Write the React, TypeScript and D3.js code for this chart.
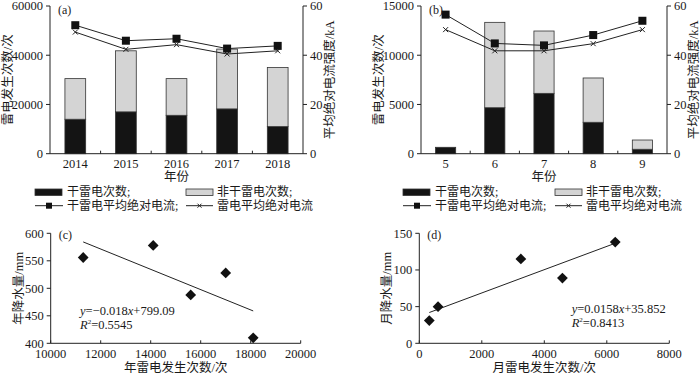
import React from 'react';
import * as d3 from 'd3';

const years = ['2014', '2015', '2016', '2017', '2018'];
const yearDry = [14000, 17000, 15600, 18200, 11000];
const yearNonDry = [16500, 24800, 14900, 24300, 24000];
const yearDryCurrent = [52.2, 45.9, 46.7, 42.7, 43.8];
const yearAllCurrent = [49.4, 42.4, 44.3, 40.5, 41.8];
const yearTicks = [0, 20000, 40000, 60000];

const months = ['5', '6', '7', '8', '9'];
const monthDry = [650, 4670, 6130, 3190, 450];
const monthNonDry = [0, 8670, 6330, 4500, 940];
const monthDryCurrent = [56.5, 44.8, 44.0, 48.2, 54.0];
const monthAllCurrent = [50.4, 41.8, 41.8, 44.7, 50.4];
const monthTicks = [0, 5000, 10000, 15000];
const currentTicks = [0, 20, 40, 60];

const yearScatterX = [11300, 14100, 15600, 17000, 18100];
const yearRain = [556, 578, 488, 528, 410];
const yearXTicks = [10000, 12000, 14000, 16000, 18000, 20000];
const yearYTicks = [400, 450, 500, 550, 600];

const monthScatterX = [320, 600, 3250, 4580, 6270];
const monthRain = [31, 50, 115, 89, 138];
const monthXTicks = [0, 2000, 4000, 6000, 8000];
const monthYTicks = [0, 50, 100, 150];

const legendLabels = ['干雷电次数;', '非干雷电次数;', '干雷电平均绝对电流;', '雷电平均绝对电流'];

const FONT = '"Liberation Serif", "Noto Sans CJK SC", serif';
const FS = 12.5;
const DARK = '#141414';
const LIGHT = '#d4d4d4';

function BarPanel({ cats, dry, nonDry, dryCur, allCur, ticks, left, right, tag, xLabel }: any) {
  const top = 6, bottom = 153.7;
  const x = d3.scaleBand().domain(cats).range([left, right]).padding(0);
  const y = d3.scaleLinear().domain([0, ticks[ticks.length - 1]]).range([bottom, top]);
  const yr = d3.scaleLinear().domain([0, 60]).range([bottom, top]);
  const bw = x.bandwidth() * 0.41;
  const cx = (c: string) => (x(c) as number) + x.bandwidth() / 2;
  const line = d3.line<[number, number]>().x(d => d[0]).y(d => d[1]);
  const dryPts: [number, number][] = cats.map((c: string, i: number) => [cx(c), yr(dryCur[i])]);
  const allPts: [number, number][] = cats.map((c: string, i: number) => [cx(c), yr(allCur[i])]);
  const midX = (left + right) / 2;
  return (
    <g>
      {cats.map((c: string, i: number) => (
        <g key={c}>
          <rect x={cx(c) - bw / 2} y={y(dry[i])} width={bw} height={bottom - y(dry[i])} fill={DARK} stroke="#333" strokeWidth={0.8} />
          {nonDry[i] > 0 && (
            <rect x={cx(c) - bw / 2} y={y(dry[i] + nonDry[i])} width={bw} height={y(dry[i]) - y(dry[i] + nonDry[i])} fill={LIGHT} stroke="#333" strokeWidth={0.8} />
          )}
        </g>
      ))}
      <path d={line(allPts) || ''} fill="none" stroke="#222" strokeWidth={1} />
      <path d={line(dryPts) || ''} fill="none" stroke="#222" strokeWidth={1} />
      {allPts.map((p, i) => (
        <g key={'x' + i} stroke="#222" strokeWidth={1}>
          <line x1={p[0] - 2.5} y1={p[1] - 2.5} x2={p[0] + 2.5} y2={p[1] + 2.5} />
          <line x1={p[0] - 2.5} y1={p[1] + 2.5} x2={p[0] + 2.5} y2={p[1] - 2.5} />
        </g>
      ))}
      {dryPts.map((p, i) => (
        <rect key={'s' + i} x={p[0] - 4} y={p[1] - 4} width={8} height={8} fill="#111" />
      ))}
      <line x1={left} y1={top} x2={left} y2={bottom} stroke="#222" />
      <line x1={right} y1={top} x2={right} y2={bottom} stroke="#222" />
      <line x1={left} y1={bottom} x2={right} y2={bottom} stroke="#222" />
      {ticks.map((t: number) => (
        <g key={'l' + t}>
          <line x1={left - 4} x2={left} y1={y(t)} y2={y(t)} stroke="#222" />
          <text x={left - 7} y={y(t)} dy="0.35em" textAnchor="end" fontSize={FS}>{t}</text>
        </g>
      ))}
      {currentTicks.map((t: number) => (
        <g key={'r' + t}>
          <line x1={right} x2={right + 4} y1={yr(t)} y2={yr(t)} stroke="#222" />
          <text x={right + 7} y={yr(t)} dy="0.35em" textAnchor="start" fontSize={FS}>{t}</text>
        </g>
      ))}
      {cats.slice(1).map((c: string) => (
        <line key={'b' + c} x1={x(c) as number} x2={x(c) as number} y1={bottom} y2={bottom - 3} stroke="#222" />
      ))}
      {cats.map((c: string) => (
        <text key={'t' + c} x={cx(c)} y={bottom + 14} textAnchor="middle" fontSize={FS}>{c}</text>
      ))}
      <text x={midX} y={180.5} textAnchor="middle" fontSize={FS}>{xLabel}</text>
      <text x={left + 8} y={top + 8} fontSize={12}>{tag}</text>
      <text transform={`translate(${left - 38},${(top + bottom) / 2}) rotate(-90)`} textAnchor="middle" fontSize={FS}>雷电发生次数/次</text>
      <text transform={`translate(${right + 31},${(top + bottom) / 2}) rotate(-90)`} textAnchor="middle" fontSize={FS}>平均绝对电流强度/kA</text>
    </g>
  );
}

function Legend({ x0, x1 }: any) {
  const r1 = 192, r2 = 205.7;
  return (
    <g fontSize={12}>
      <rect x={x0} y={r1 - 3} width={27} height={6.5} fill={DARK} stroke="#333" strokeWidth={0.8} />
      <text x={x0 + 32} y={r1} dy="0.35em">{legendLabels[0]}</text>
      <rect x={x1} y={r1 - 3} width={27} height={6.5} fill={LIGHT} stroke="#333" strokeWidth={0.8} />
      <text x={x1 + 31} y={r1} dy="0.35em">{legendLabels[1]}</text>
      <line x1={x0} x2={x0 + 28} y1={r2} y2={r2} stroke="#222" />
      <rect x={x0 + 11} y={r2 - 3} width={6} height={6} fill="#111" />
      <text x={x0 + 32} y={r2} dy="0.35em">{legendLabels[2]}</text>
      <line x1={x1} x2={x1 + 27} y1={r2} y2={r2} stroke="#222" />
      <g stroke="#222">
        <line x1={x1 + 11.5} y1={r2 - 2} x2={x1 + 15.5} y2={r2 + 2} />
        <line x1={x1 + 11.5} y1={r2 + 2} x2={x1 + 15.5} y2={r2 - 2} />
      </g>
      <text x={x1 + 31} y={r2} dy="0.35em">{legendLabels[3]}</text>
    </g>
  );
}

function ScatterPanel({ xs, ys, xTicks, yTicks, left, right, tag, xLabel, yLabel, eq, r2, eqX, eqY }: any) {
  const top = 233.3, bottom = 343.3;
  const x = d3.scaleLinear().domain([xTicks[0], xTicks[xTicks.length - 1]]).range([left, right]);
  const y = d3.scaleLinear().domain([yTicks[0], yTicks[yTicks.length - 1]]).range([bottom, top]);
  const mx = d3.mean(xs) as number, my = d3.mean(ys) as number;
  const sxy = d3.sum(xs.map((v: number, i: number) => (v - mx) * (ys[i] - my)));
  const sxx = d3.sum(xs.map((v: number) => (v - mx) * (v - mx)));
  const slope = sxy / sxx, icpt = my - slope * mx;
  const [xmin, xmax] = d3.extent(xs) as [number, number];
  const sym = d3.symbol().type(d3.symbolSquare).size(58)();
  return (
    <g>
      <line x1={x(xmin)} y1={y(icpt + slope * xmin)} x2={x(xmax)} y2={y(icpt + slope * xmax)} stroke="#222" strokeWidth={1} />
      {xs.map((v: number, i: number) => (
        <path key={i} d={sym || ''} transform={`translate(${x(v)},${y(ys[i])}) rotate(45)`} fill="#111" />
      ))}
      <line x1={left} y1={top} x2={left} y2={bottom} stroke="#222" />
      <line x1={left} y1={bottom} x2={right} y2={bottom} stroke="#222" />
      {yTicks.map((t: number) => (
        <g key={'y' + t}>
          <line x1={left - 4} x2={left} y1={y(t)} y2={y(t)} stroke="#222" />
          <text x={left - 7} y={y(t)} dy="0.35em" textAnchor="end" fontSize={FS}>{t}</text>
        </g>
      ))}
      {xTicks.map((t: number) => (
        <g key={'x' + t}>
          <line x1={x(t)} x2={x(t)} y1={bottom} y2={bottom - 3} stroke="#222" />
          <text x={x(t)} y={bottom + 15} textAnchor="middle" fontSize={FS}>{t}</text>
        </g>
      ))}
      <text x={left + 8} y={top + 6} fontSize={12}>{tag}</text>
      <text x={(left + right) / 2} y={372} textAnchor="middle" fontSize={FS}>{xLabel}</text>
      <text transform={`translate(${left - 28},${(top + bottom) / 2}) rotate(-90)`} textAnchor="middle" fontSize={FS}>{yLabel}</text>
      <text x={eqX} y={eqY} fontSize={12.5}>
        <tspan fontStyle="italic">y</tspan>
        <tspan>{eq[0]}</tspan>
        <tspan fontStyle="italic">x</tspan>
        <tspan>{eq[1]}</tspan>
      </text>
      <text x={eqX} y={eqY + 14} fontSize={12.5}>
        <tspan fontStyle="italic">R</tspan>
        <tspan fontSize={7} dy={-5}>2</tspan>
        <tspan dy={5}>{r2}</tspan>
      </text>
    </g>
  );
}

export default function App() {
  return (
    <svg width={700} height={375} style={{ position: 'absolute', left: 0, top: 0, background: '#fff' }} fontFamily={FONT} fill="#1a1a1a">
      <BarPanel cats={years} dry={yearDry} nonDry={yearNonDry} dryCur={yearDryCurrent} allCur={yearAllCurrent}
        ticks={yearTicks} left={50} right={303} tag="(a)" xLabel="年份" />
      <BarPanel cats={months} dry={monthDry} nonDry={monthNonDry} dryCur={monthDryCurrent} allCur={monthAllCurrent}
        ticks={monthTicks} left={421} right={667} tag="(b)" xLabel="年份" />
      <Legend x0={35} x1={186} />
      <Legend x0={403} x1={555} />
      <ScatterPanel xs={yearScatterX} ys={yearRain} xTicks={yearXTicks} yTicks={yearYTicks} left={50.7} right={300.7}
        tag="(c)" xLabel="年雷电发生次数/次" yLabel="年降水量/mm" eq={['=−0.018', '+799.09']} r2="=0.5545" eqX={80} eqY={315} />
      <ScatterPanel xs={monthScatterX} ys={monthRain} xTicks={monthXTicks} yTicks={monthYTicks} left={419.3} right={669.3}
        tag="(d)" xLabel="月雷电发生次数/次" yLabel="月降水量/mm" eq={['=0.0158', '+35.852']} r2="=0.8413" eqX={571.7} eqY={312.7} />
    </svg>
  );
}
